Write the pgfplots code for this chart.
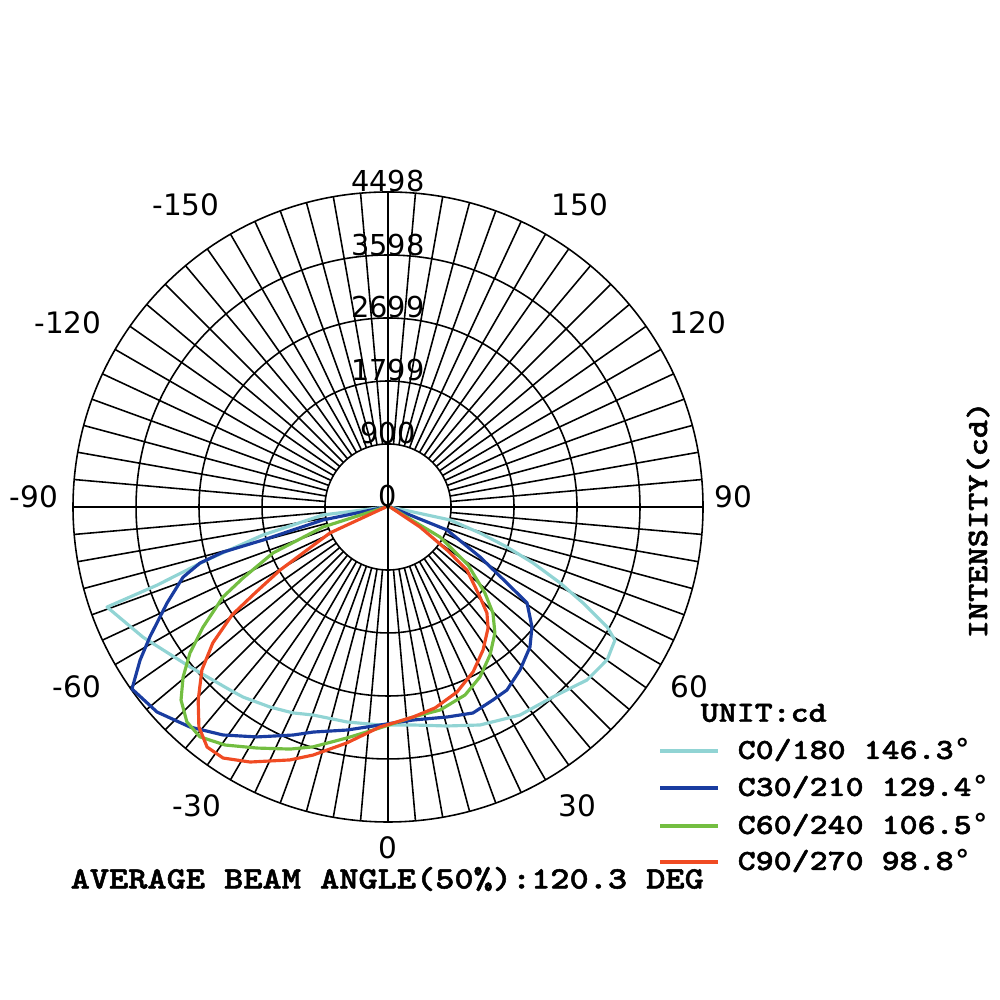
\documentclass[border=0pt]{standalone}
\usepackage{pgfplots}
\pgfplotsset{compat=1.18}
\usepackage{pgfplotstable}
\usepackage{fontspec}
\newfontfamily\monob{lmmonolt10-bold.otf}[FakeStretch=1.175, FakeBold=1.6]
\newfontfamily\libmono{Liberation Mono}
\newfontfamily\dvs{DejaVu Sans}
\newcommand{\dgr}{{\libmono\bfseries °}}

\definecolor{c0}{RGB}{145,212,212}
\definecolor{c30}{RGB}{25,60,160}
\definecolor{c60}{RGB}{115,190,65}
\definecolor{c90}{RGB}{240,75,35}

% angle (deg, 0 = down, + to the right), intensity (cd)
\pgfplotstableread{
a cd
-90 30
-83.0 935
-77.4 1829
-73.7 2693
-71.3 3482
-70.4 4259
-62.0 3961
-51.1 3635
-40.8 3452
-37.3 3413
-30.5 3316
-24.8 3239
-19.8 3157
-10.8 3125
-2.1 3115
6.5 3133
15.1 3239
22.9 3379
32.4 3518
41.0 3593
49.0 3765
55.1 3815
59.6 3757
61.3 3566
63.8 3103
66.2 2685
68.9 2219
71.4 1792
74.2 1365
78.2 905
90 30
}\Czero

\pgfplotstableread{
a cd
-90 30
-78.7 947
-75.2 1846
-74.7 2442
-73.4 2801
-71.1 3093
-66.5 3441
-61.4 3872
-58.3 4161
-54.6 4485
-48.4 4410
-42.0 4227
-35.9 4019
-29.7 3780
-22.6 3527
-18.4 3387
-10.4 3238
-2.1 3115
6.7 3063
15.7 3115
22.4 3182
28.5 3137
33.0 3117
39.0 2995
45.4 2847
50.2 2676
55.4 2412
57.4 2016
61.5 1495
68.7 904
90 30
}\Cthirty

\pgfplotstableread{
a cd
-90 30
-72.9 971
-68.2 1769
-63.9 2305
-61.4 2684
-57.0 3149
-53.6 3513
-50.3 3803
-47.0 4041
-43.1 4203
-39.3 4241
-34.4 4119
-28.5 3917
-22.0 3728
-17.4 3590
-10.1 3350
-2.1 3157
6.8 3020
14.4 2993
22.3 2901
28.4 2760
34.6 2566
40.3 2360
44.7 2130
48.4 1851
54.1 1411
60.0 857
90 30
}\Csixty

\pgfplotstableread{
a cd
-90 30
-65.9 908
-59.7 1785
-57.1 2262
-55.3 2709
-52.2 3165
-48.8 3532
-44.5 3867
-40.7 4141
-37.0 4292
-33.3 4289
-28.4 4140
-21.2 3874
-16.8 3700
-9.9 3420
-2.1 3143
6.8 3020
13.2 2947
20.5 2819
27.3 2650
33.6 2452
39.6 2242
43.0 2071
45.6 1838
51.4 1443
53.9 1043
58.0 539
90 30
}\Cninety

\begin{document}
\begin{tikzpicture}[x=1cm,y=1cm]
\path (0,0) rectangle (10,10);
% polar grid
\begin{scope}[shift={(3.88,4.93)}, line width=0.45pt]
  \foreach \r in {0.6303,1.2598,1.8900,2.5197,3.15} \draw (0,0) circle[radius=\r];
  \foreach \a in {0,5,...,355} \draw (\a:0.6303) -- (\a:3.15);
  \draw (-3.15,0) -- (3.15,0);
  \draw (0,-3.15) -- (0,3.15);
\end{scope}

\begin{axis}[at={(3.88cm,4.93cm)}, anchor=center, hide axis, scale only axis,
  width=6.3cm, height=6.3cm, xmin=-4498, xmax=4498, ymin=-4498, ymax=4498,
  clip=false]
  \addplot[no markers, c0, line width=0.9pt, line join=round, data cs=polar]
    table[x expr=\thisrow{a}-90, y=cd] {\Czero};
  \addplot[no markers, c30, line width=0.9pt, line join=round, data cs=polar]
    table[x expr=\thisrow{a}-90, y=cd] {\Cthirty};
  \addplot[no markers, c60, line width=0.9pt, line join=round, data cs=polar]
    table[x expr=\thisrow{a}-90, y=cd] {\Csixty};
  \addplot[no markers, c90, line width=0.9pt, line join=round, data cs=polar]
    table[x expr=\thisrow{a}-90, y=cd] {\Cninety};
\end{axis}

% ring labels
\begin{scope}[every node/.style={font=\dvs\fontsize{8.2}{9}\selectfont, anchor=base, inner sep=0pt}]
  \node at (3.88,8.08) {4498};
  \node at (3.88,7.4497) {3598};
  \node at (3.88,6.82) {2699};
  \node at (3.88,6.19) {1799};
  \node at (3.88,5.56) {900};
  \node at (3.88,4.93) {0};
\end{scope}

% angle labels
\begin{scope}[every node/.style={font=\dvs\fontsize{8.4}{9}\selectfont, inner sep=0pt}]
  \node at (1.86,7.95) {-150};
  \node at (5.80,7.95) {150};
  \node at (0.68,6.77) {-120};
  \node at (6.98,6.77) {120};
  \node at (0.34,5.03) {-90};
  \node at (7.33,5.03) {90};
  \node at (0.77,3.13) {-60};
  \node at (6.89,3.13) {60};
  \node at (1.97,1.94) {-30};
  \node at (5.77,1.94) {30};
  \node at (3.88,1.52) {0};
\end{scope}

% legend
\begin{scope}[every node/.style={font=\monob\fontsize{8.3}{9}\selectfont, inner sep=0pt, anchor=west}]
  \node at (7.00,2.87) {UNIT:cd};
  \draw[c0, line width=0.9pt] (6.60,2.49) -- (7.18,2.49);
  \node at (7.37,2.50) {C0/180 146.3\dgr};
  \draw[c30, line width=0.9pt] (6.60,2.12) -- (7.18,2.12);
  \node at (7.37,2.13) {C30/210 129.4\dgr};
  \draw[c60, line width=0.9pt] (6.60,1.74) -- (7.18,1.74);
  \node at (7.37,1.75) {C60/240 106.5\dgr};
  \draw[c90, line width=0.9pt] (6.60,1.38) -- (7.18,1.38);
  \node at (7.37,1.39) {C90/270 98.8\dgr};
\end{scope}

\node[font=\monob\fontsize{8.85}{10}\selectfont, inner sep=0pt, anchor=west] at (0.70,1.21) {AVERAGE BEAM ANGLE(50\%):120.3 DEG};
\node[font=\monob\fontsize{8.4}{10}\selectfont, inner sep=0pt, rotate=90] at (9.78,4.80) {INTENSITY(cd)};
\end{tikzpicture}
\end{document}
